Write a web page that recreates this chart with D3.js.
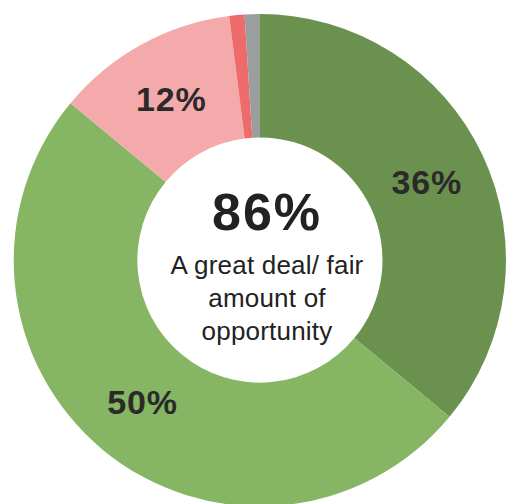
<!DOCTYPE html>
<html>
<head>
<meta charset="utf-8">
<script src="https://cdn.jsdelivr.net/npm/d3@7"></script>
<style>
  body { margin: 0; background: #fff; }
  svg { display: block; }
</style>
</head>
<body>
<svg class="chart"></svg>
<script>
const categories = ['A great deal', 'A fair amount', 'Not too much', 'None at all', 'No answer'];
const values = [36, 50, 12, 1, 1];
const labels = ['36%', '50%', '12%', '', ''];
const colors = ['#6a914e', '#86b563', '#f4aaab', '#ed6b6b', '#9a9e9e'];
const centerValue = '86%';
const centerLines = ['A great deal/ fair', 'amount of', 'opportunity'];

const width = 507,
    height = 504,
    cx = 260,
    cy = 260,
    outerR = 246,
    innerR = 122.5;

const svg = d3.select('.chart')
    .attr('width', width)
    .attr('height', height);

const g = svg.append('g')
    .attr('transform', 'translate(' + cx + ',' + cy + ')');

const pie = d3.pie().sort(null).value(d => d);
const arc = d3.arc().innerRadius(innerR).outerRadius(outerR);
const arcs = pie(values);

g.selectAll('path')
    .data(arcs)
    .enter().append('path')
    .attr('d', arc)
    .attr('fill', (d, i) => colors[i]);

// slice labels at the centroid
g.selectAll('text.lbl')
    .data(arcs)
    .enter().append('text')
    .attr('class', 'lbl')
    .attr('x', d => arc.centroid(d)[0])
    .attr('y', d => arc.centroid(d)[1] + 12)
    .style('text-anchor', 'middle')
    .style('font-family', '"Liberation Sans", Arial, sans-serif')
    .style('font-weight', 'bold')
    .style('font-size', '34px')
    .style('letter-spacing', '0.8px')
    .style('fill', '#2a2a2a')
    .text((d, i) => labels[i]);

// centre text
g.append('text')
    .attr('x', 7)
    .attr('y', -30)
    .style('text-anchor', 'middle')
    .style('font-family', '"Liberation Sans", Arial, sans-serif')
    .style('font-weight', 'bold')
    .style('font-size', '52px')
    .style('letter-spacing', '2px')
    .style('fill', '#222')
    .text(centerValue);

g.selectAll('text.sub')
    .data(centerLines)
    .enter().append('text')
    .attr('class', 'sub')
    .attr('x', 7)
    .attr('y', (d, i) => 14 + i * 33)
    .style('text-anchor', 'middle')
    .style('font-family', '"Liberation Sans", Arial, sans-serif')
    .style('font-size', '26px')
    .style('letter-spacing', '0.2px')
    .style('fill', '#222')
    .text(d => d);
</script>
</body>
</html>
